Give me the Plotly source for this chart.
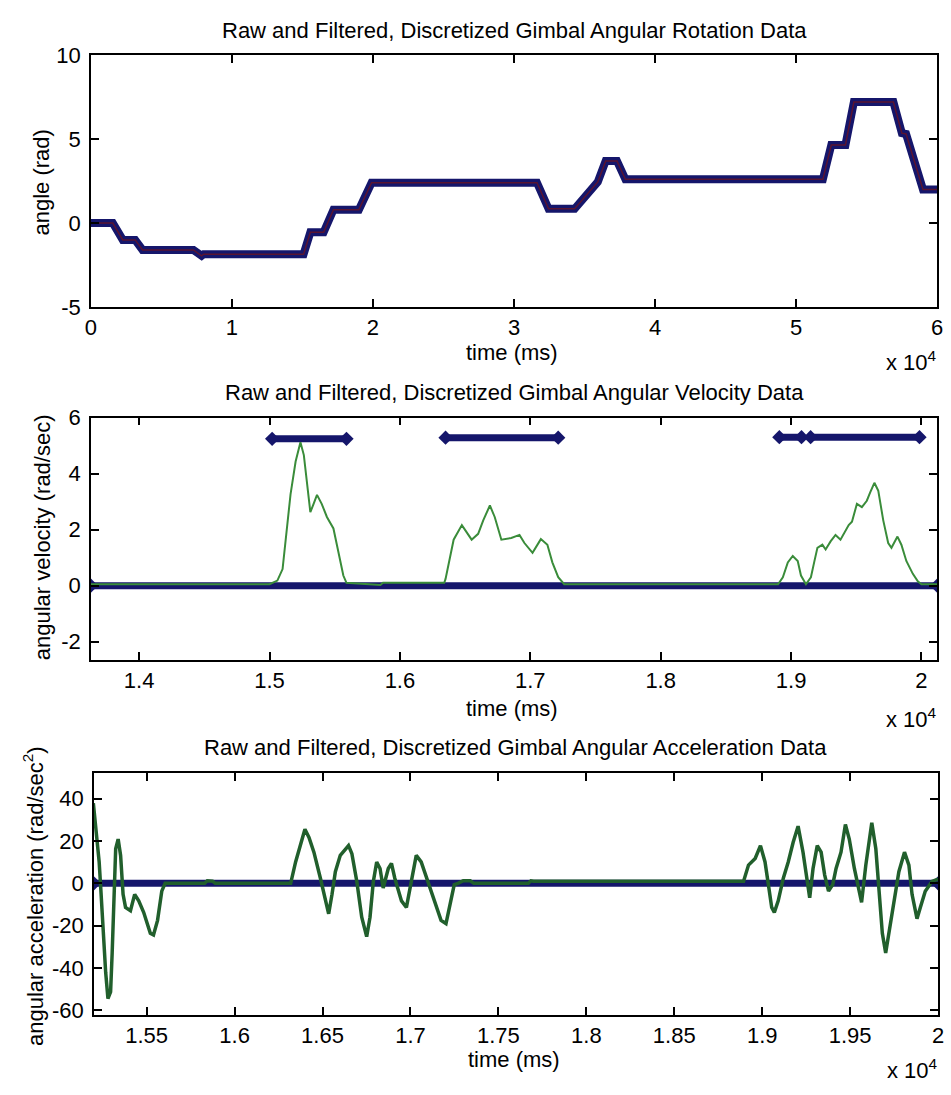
import plotly.graph_objects as go

# ---------------- data ----------------
# Angular rotation (time in ms, angle in rad)
rot_t = [0, 1550, 2260, 3140, 3660, 7270, 7850, 8000, 15080, 15560, 16500, 17200,
         19000, 19900, 31630, 32450, 34300, 35500, 35940, 36500, 37300, 37900,
         51900, 52500, 53500, 54100, 56900, 57500, 57800, 59000, 60000]
rot_raw = [0, 0, -1.0, -1.0, -1.6, -1.6, -1.95, -1.85, -1.85, -0.55, -0.55, 0.8,
           0.8, 2.4, 2.4, 0.85, 0.85, 2.0, 2.45, 3.7, 3.7, 2.6,
           2.6, 4.65, 4.65, 7.2, 7.2, 5.35, 5.3, 2.0, 2.0]

# Angular velocity (rad/sec)
vel_t = [13630, 15000, 15060, 15100, 15161, 15200, 15237, 15263, 15300, 15313, 15338,
         15364, 15400, 15440, 15490, 15528, 15566, 15590, 15850, 15870, 16340,
         16350, 16412, 16475, 16550, 16600, 16639, 16690, 16727, 16778, 16854,
         16917, 16955, 17017, 17081, 17131, 17169, 17214, 17260, 18900,
         18937, 18975, 19013, 19051, 19076, 19114, 19152, 19177, 19202, 19240,
         19265, 19303, 19341, 19379, 19417, 19442, 19467, 19505, 19543, 19581,
         19606, 19639, 19669, 19707, 19745, 19770, 19816, 19846, 19884, 19934,
         19972, 20000, 20120]
vel_filt = [0.05, 0.05, 0.18, 0.59, 3.26, 4.43, 5.12, 4.66, 3.15, 2.62, 2.92,
            3.24, 2.92, 2.45, 2.04, 1.17, 0.36, 0.1, 0.02, 0.1, 0.1,
            0.24, 1.64, 2.16, 1.64, 1.85, 2.33, 2.86, 2.45, 1.64, 1.70,
            1.81, 1.52, 1.17, 1.66, 1.46, 0.83, 0.30, 0.05, 0.05,
            0.30, 0.83, 1.06, 0.88, 0.36, 0.05, 0.3, 0.83, 1.35, 1.46,
            1.29, 1.58, 1.81, 1.64, 1.93, 2.16, 2.28, 2.92, 2.80, 3.03,
            3.32, 3.67, 3.38, 2.33, 1.52, 1.35, 1.75, 1.46, 0.88, 0.42,
            0.15, 0.05, 0.05]
vel_zero_t = [13630, 20120]
vel_zero = [0, 0]
vel_on_start = [15020, 16350, 18910, 19150]
vel_on_end = [15590, 17214, 19080, 19985]
vel_on_level = [5.24, 5.28, 5.3, 5.3]

# Angular acceleration (rad/sec^2)
acc_t = [15197, 15211, 15220, 15230, 15239, 15248, 15258, 15267, 15280, 15295,
         15304, 15314, 15324, 15338, 15352, 15366, 15380, 15408, 15432, 15455,
         15483, 15521, 15539, 15562, 15586, 15605, 15830, 15845, 15875, 15890,
         16319, 16347, 16375, 16400, 16423, 16451, 16488, 16516, 16535, 16554,
         16573, 16601, 16648, 16667, 16695, 16723, 16751, 16770, 16789, 16808,
         16827, 16845, 16874, 16892, 16911, 16949, 16977, 17005, 17033, 17061,
         17099, 17136, 17174, 17202, 17221, 17249, 17270, 17300, 17340, 17360,
         17670, 17685, 17700, 17720, 18894, 18922, 18960, 18990, 19016, 19035,
         19054, 19069, 19091, 19120, 19148, 19176, 19204, 19232, 19256, 19270,
         19289, 19313, 19335, 19355, 19377, 19401, 19420, 19448, 19473, 19495,
         19524, 19552, 19565, 19589, 19623, 19646, 19665, 19683, 19702, 19721,
         19749, 19777, 19809, 19834, 19852, 19880, 19899, 19927, 19965, 20000]
acc_filt = [37.8, 25.5, 17.8, 10.1, -2.2, -17.5, -29.8, -42, -54.4, -51.3,
            -32.9, -2.2, 16.3, 20.9, 13.2, -5.2, -11.4, -12.9, -5.2, -8.3,
            -13.7, -23.6, -24.4, -17.5, -3.7, 0, 0, 1.2, 1.0, 0,
            0, 10.1, 17.8, 25.5, 21.7, 14.7, 2.4, -8.3, -14.4, -5.2,
            5.5, 13.2, 17.8, 14, 0.9, -16, -25.2, -16, 0.9, 10.1,
            7, -2.2, 7, 9.4, 2.4, -8.3, -11.4, 0.9, 13.2, 10.1,
            0.9, -8.3, -17.5, -19, -11.4, -0.6, 0, 1.2, 1.2, 0,
            0, 1.2, 1.0, 1.0, 1.0, 8.6, 11.7, 17.8, 10.1, -0.6,
            -11.4, -13.7, -8.3, 2.4, 10.1, 19.4, 27, 14.7, 0.9, -6.8,
            7, 17.8, 14.7, 4, -3.7, -0.6, 7, 14.7, 27.8, 20.9,
            7, -5.2, -9, 8.6, 28.6, 16.3, -5.2, -23.6, -32.9, -23.6,
            -8.3, 5.5, 14.7, 8.6, -5.2, -16.7, -11.4, -3.7, 0.9, 2]
acc_zero_t = [15200, 20000]
acc_zero = [0, 0]

# Tick values / labels (time axes scaled by 10^4)
rot_xticks = [0, 10000, 20000, 30000, 40000, 50000, 60000]
rot_xlabels = ["0", "1", "2", "3", "4", "5", "6"]
rot_yticks = [-5, 0, 5, 10]
rot_ylabels = ["-5", "0", "5", "10"]
vel_xticks = [14000, 15000, 16000, 17000, 18000, 19000, 20000]
vel_xlabels = ["1.4", "1.5", "1.6", "1.7", "1.8", "1.9", "2"]
vel_yticks = [-2, 0, 2, 4, 6]
vel_ylabels = ["-2", "0", "2", "4", "6"]
acc_xticks = [15500, 16000, 16500, 17000, 17500, 18000, 18500, 19000, 19500, 20000]
acc_xlabels = ["1.55", "1.6", "1.65", "1.7", "1.75", "1.8", "1.85", "1.9", "1.95", "2"]
acc_yticks = [-60, -40, -20, 0, 20, 40]
acc_ylabels = ["-60", "-40", "-20", "0", "20", "40"]

titles = ["Raw and Filtered, Discretized Gimbal Angular Rotation Data",
          "Raw and Filtered, Discretized Gimbal Angular Velocity Data",
          "Raw and Filtered, Discretized Gimbal Angular Acceleration Data"]
ylabels = ["angle (rad)", "angular velocity (rad/sec)",
           "angular acceleration (rad/sec<sup>2</sup>)"]

# ---------------- styling ----------------
W, H = 951, 1095
FONT = "Liberation Sans, Arial, Helvetica, sans-serif"
FS = 22
NAVY = "#15166b"
GREEN_LIGHT = "#3a8c3a"
GREEN_DARK = "#215f2c"


def px(x):
    return x / W


def py(y):
    return 1 - y / H


fig = go.Figure()

# rotation panel
fig.add_trace(go.Scatter(x=rot_t, y=rot_raw, mode="lines",
                         line=dict(color=NAVY, width=8), xaxis="x", yaxis="y"))
fig.add_trace(go.Scatter(x=rot_t, y=rot_raw, mode="lines",
                         line=dict(color="#5a1430", width=1.5), xaxis="x", yaxis="y"))

# velocity panel
fig.add_trace(go.Scatter(x=vel_zero_t, y=vel_zero, mode="lines+markers",
                         line=dict(color=NAVY, width=7),
                         marker=dict(symbol="diamond", size=11, color=NAVY),
                         xaxis="x2", yaxis="y2"))
for s, e, lv in zip(vel_on_start, vel_on_end, vel_on_level):
    fig.add_trace(go.Scatter(x=[s, e], y=[lv, lv], mode="lines+markers",
                             line=dict(color=NAVY, width=7),
                             marker=dict(symbol="diamond", size=11, color=NAVY),
                             xaxis="x2", yaxis="y2"))
fig.add_trace(go.Scatter(x=vel_t, y=vel_filt, mode="lines",
                         line=dict(color=GREEN_LIGHT, width=2),
                         xaxis="x2", yaxis="y2"))

# acceleration panel
fig.add_trace(go.Scatter(x=acc_zero_t, y=acc_zero, mode="lines+markers",
                         line=dict(color=NAVY, width=7),
                         marker=dict(symbol="diamond", size=11, color=NAVY),
                         xaxis="x3", yaxis="y3"))
fig.add_trace(go.Scatter(x=acc_t, y=acc_filt, mode="lines",
                         line=dict(color=GREEN_DARK, width=3.5),
                         xaxis="x3", yaxis="y3"))

axis_common = dict(showline=True, linecolor="black", linewidth=1.5,
                   mirror="allticks", ticks="inside", ticklen=8, tickwidth=1.5,
                   tickcolor="black", showgrid=False, zeroline=False,
                   tickfont=dict(family=FONT, size=FS, color="black"))

panels = [
    # x/y pixel edges, ranges, tick values and labels
    ((86, 943), (44, 302), [0, 60000], [-5, 10],
     rot_xticks, rot_xlabels, rot_yticks, rot_ylabels),
    ((86, 943), (415, 663), [13630, 20120], [-2.65, 6],
     vel_xticks, vel_xlabels, vel_yticks, vel_ylabels),
    ((89, 944), (779, 1026), [15200, 20000], [-62, 52],
     acc_xticks, acc_xlabels, acc_yticks, acc_ylabels),
]

layout_axes = {}
for i, (xd, yd, xr, yr, xt, xl, yt, yl) in enumerate(panels):
    sfx = "" if i == 0 else str(i + 1)
    layout_axes["xaxis" + sfx] = dict(
        axis_common, domain=[px(xd[0]), px(xd[1])], range=xr,
        tickvals=xt, ticktext=xl, anchor="y" + sfx, ticklabelstandoff=0)
    layout_axes["yaxis" + sfx] = dict(
        axis_common, domain=[py(yd[1]), py(yd[0])], range=yr,
        tickvals=yt, ticktext=yl, anchor="x" + sfx, ticklabelstandoff=4)

annotations = []
title_y = [19, 389, 753]
xlabel_y = [348, 713, 1072]
mult_y = [357, 722, 1082]
ylabel_pos = [(35, 175), (37, 538), (28, 905)]
for i in range(3):
    xd = panels[i][0]
    cx = (xd[0] + xd[1]) / 2
    annotations.append(dict(text=titles[i], x=px(cx), y=py(title_y[i]),
                            xref="paper", yref="paper", showarrow=False,
                            xanchor="center", yanchor="middle",
                            font=dict(family=FONT, size=FS, color="black")))
    annotations.append(dict(text="time (ms)", x=px(cx - 2), y=py(xlabel_y[i]),
                            xref="paper", yref="paper", showarrow=False,
                            xanchor="center", yanchor="middle",
                            font=dict(family=FONT, size=FS, color="black")))
    annotations.append(dict(text="x 10<sup>4</sup>", x=px(xd[1] + 2), y=py(mult_y[i]),
                            xref="paper", yref="paper", showarrow=False,
                            xanchor="right", yanchor="middle",
                            font=dict(family=FONT, size=FS, color="black")))
    annotations.append(dict(text=ylabels[i], x=px(ylabel_pos[i][0]), y=py(ylabel_pos[i][1]),
                            xref="paper", yref="paper", showarrow=False,
                            xanchor="center", yanchor="middle", textangle=-90,
                            font=dict(family=FONT, size=FS, color="black")))

fig.update_layout(
    width=W, height=H,
    margin=dict(l=0, r=0, t=0, b=0),
    paper_bgcolor="white", plot_bgcolor="white",
    showlegend=False,
    annotations=annotations,
    **layout_axes,
)

fig.write_html("out.html")
